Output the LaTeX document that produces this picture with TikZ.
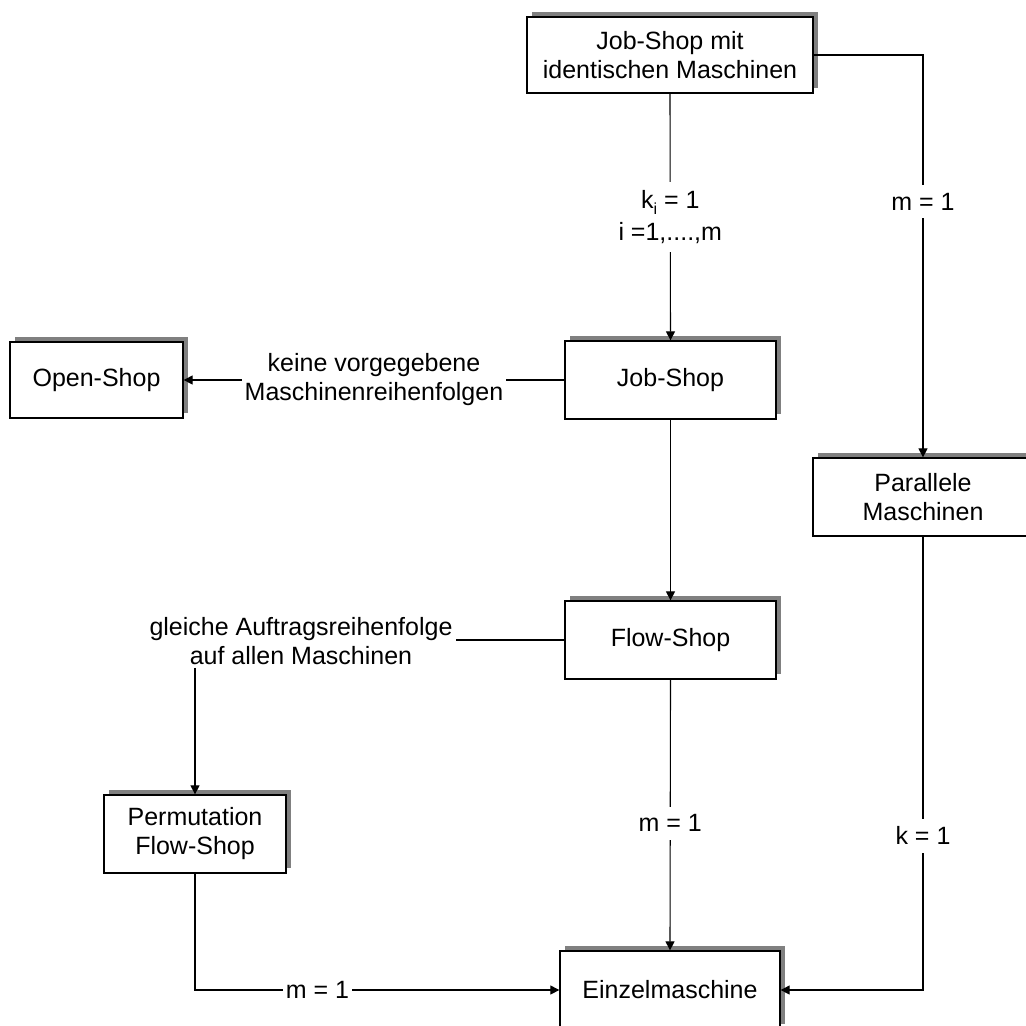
\documentclass[tikz,border=0pt]{standalone}
\usepackage{fontspec}
\setmainfont{Liberation Sans}
\usetikzlibrary{arrows.meta,shadows}
\definecolor{shadowgray}{HTML}{808080}
\newcommand\lbfont{\fontsize{25}{29}\selectfont}
\begin{document}
\begin{tikzpicture}[x=1pt,y=-1pt,
  box/.style={draw=black, line width=1.3pt, fill=white, inner sep=0pt,
    align=center, font=\lbfont,
    drop shadow={shadow xshift=5pt, shadow yshift=5pt, opacity=1, fill=shadowgray, draw=none}},
  line/.style={line width=1.1pt, draw=black},
  conn/.style={line, -{Triangle[length=9pt,width=9pt]}},
  hlbl/.style={font=\lbfont, align=center, fill=white, inner xsep=3pt, inner ysep=3pt},
  vlbl/.style={font=\lbfont, align=center, fill=white, inner xsep=3pt, inner ysep=8pt}]
\useasboundingbox (0,0) rectangle (1026,1026);
\clip (0,0) rectangle (1026,1026);

% boxes
\node[box, minimum width=286pt, minimum height=76pt] (jsim) at (670,55) {Job-Shop mit\\identischen Maschinen};
\node[box, minimum width=211pt, minimum height=78pt] (js) at (670.5,380) {Job-Shop};
\node[box, minimum width=173pt, minimum height=76pt] (os) at (96.5,380) {Open-Shop};
\node[box, minimum width=211pt, minimum height=78pt] (fs) at (670.5,640) {Flow-Shop};
\node[box, minimum width=220pt, minimum height=78pt] (par) at (923,497) {Parallele\\Maschinen};
\node[box, minimum width=182pt, minimum height=78pt] (perm) at (195,834) {Permutation\\Flow-Shop};
\node[box, minimum width=220pt, minimum height=78pt] (ez) at (670,990) {Einzelmaschine};

% connectors
\draw[conn] (jsim.south) -- node[vlbl]{k\raisebox{-6pt}{\fontsize{16}{16}\selectfont i} = 1\\[3pt]i =1,....,m} (js.north);
\draw[conn] (jsim.east) -| node[vlbl, pos=0.682]{m = 1} (par.north);
\draw[conn] (js.west) -- node[hlbl]{keine vorgegebene\\Maschinenreihenfolgen} (os.east);
\draw[conn] (js.south) -- (fs.north);

\node[hlbl, fill=none] (gl) at (301,641) {gleiche Auftragsreihenfolge\\auf allen Maschinen};
\draw[line] (fs.west) -- (fs.west -| gl.east);
\draw[conn] (perm.north |- gl.south) -- (perm.north);

\draw[conn] (fs.south) -- node[vlbl, pos=0.53]{m = 1} (ez.north);
\draw[conn] (perm.south) |- node[hlbl, pos=0.668]{m = 1} (ez.west);
\draw[conn] (par.south) |- node[vlbl, pos=0.33]{k = 1} (ez.east);
\end{tikzpicture}
\end{document}
